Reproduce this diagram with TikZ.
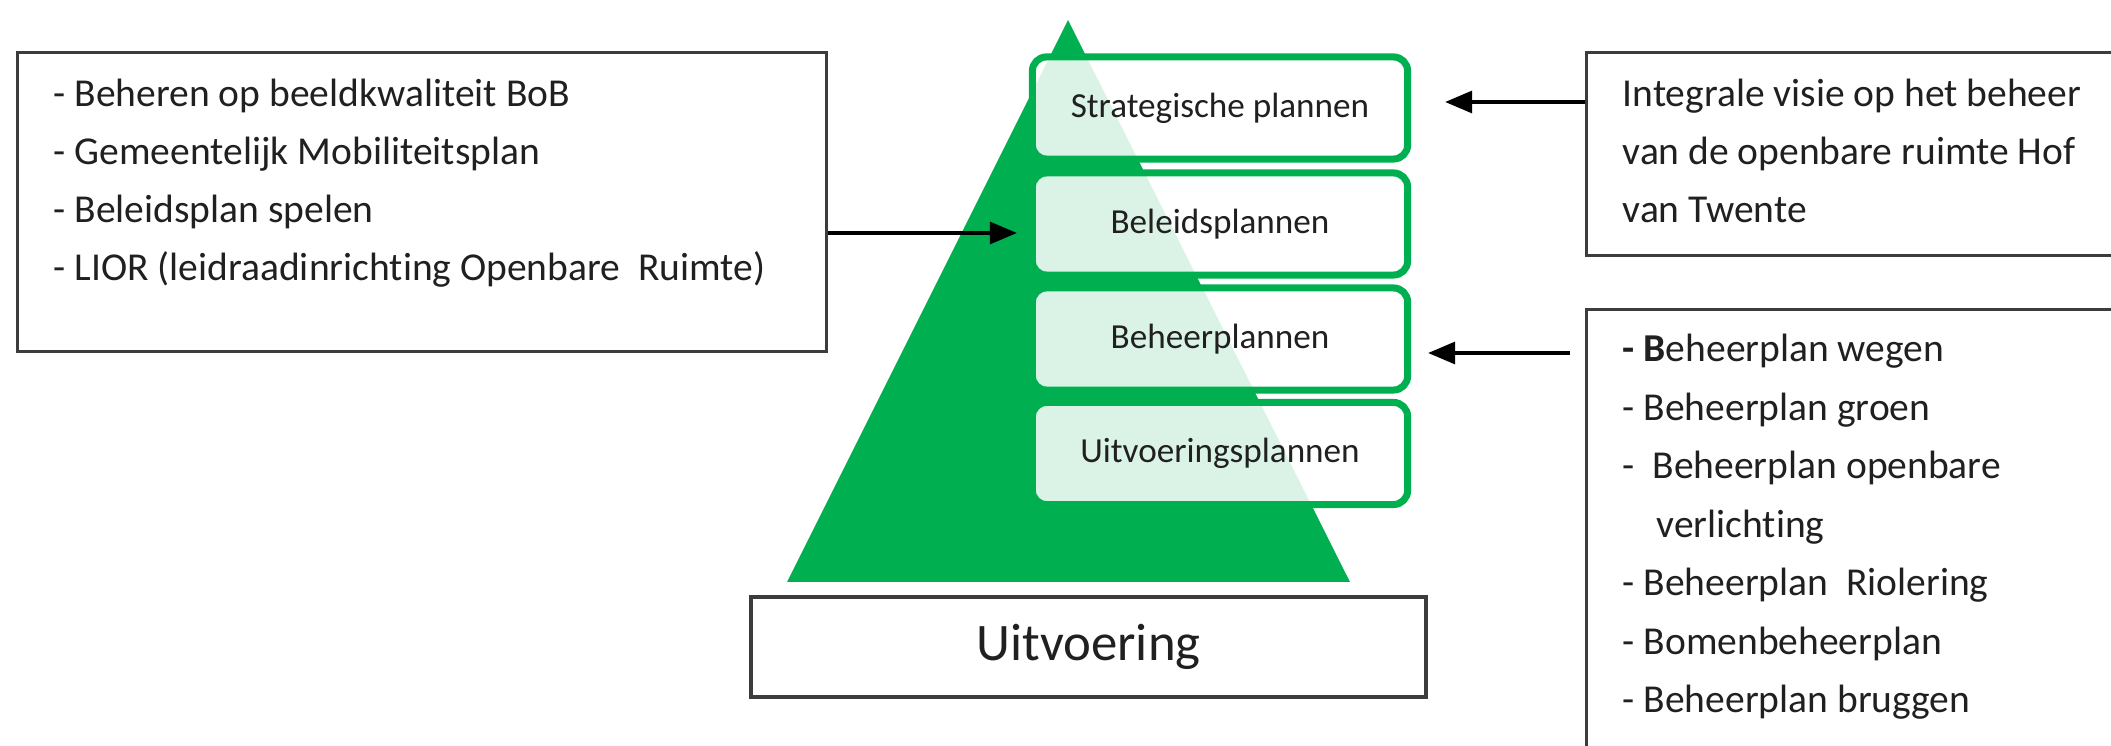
\documentclass[tikz,border=0pt]{standalone}
\usepackage{fontspec}
\setmainfont[Ligatures=NoCommon]{Carlito}
\usetikzlibrary{arrows.meta}
\definecolor{pgreen}{RGB}{0,176,80}
\definecolor{bord}{RGB}{60,60,60}
\definecolor{txt}{RGB}{32,32,32}
\begin{document}
\begin{tikzpicture}[x=0.01cm,y=-0.01cm,
  outbox/.style={draw=bord, line width=1pt, fill=white, inner sep=0pt},
  planbox/.style={draw=pgreen, line width=2pt, rounded corners=0.14cm, fill=white,
    fill opacity=0.86, text opacity=1, minimum width=3.75cm, minimum height=1.02cm,
    inner sep=0pt, text=txt, font=\fontsize{10}{12}\selectfont},
  ltxt/.style={anchor=base west, inner sep=0pt, text=txt, font=\fontsize{11.24}{13}\selectfont},
  arr/.style={-{Triangle[length=0.27cm,width=0.22cm]}, line width=0.9pt, black}
]
\useasboundingbox (0,0) rectangle (2111,746);
\clip (0,0) rectangle (2111,746);

% pyramid
\fill[pgreen] (1068,20) -- (1350,582) -- (787,582) -- cycle;

% plan boxes
\node[planbox] (B1) at (1220,108) {Strategische plannen};
\node[planbox] (B2) at (1220,224) {Beleidsplannen};
\node[planbox] (B3) at (1220,339) {Beheerplannen};
\node[planbox] (B4) at (1220,453.5) {Uitvoeringsplannen};

% bottom box
\node[outbox, line width=1.1pt, minimum width=6.75cm, minimum height=1.0cm, text=txt,
  font=\fontsize{15}{18}\selectfont] (U) at (1088.5,647) {Uitvoering};

% left box
\node[outbox, minimum width=8.085cm, minimum height=2.985cm] (L) at (422,202) {};
\node[ltxt] (L1) at (53,107) {- Beheren op beeldkwaliteit BoB};
\node[ltxt] (L2) at (53,165) {- Gemeentelijk Mobiliteitsplan};
\node[ltxt] (L3) at (53,223) {- Beleidsplan spelen};
\node[ltxt] (L4) at (53,281) {- LIOR (leidraadinrichting Openbare\ \ Ruimte)};

% top right box
\node[outbox, minimum width=5.515cm, minimum height=2.025cm] (R1) at (1862.5,154) {};
\node[ltxt] (R1a) at (1622,107) {Integrale visie op het beheer};
\node[ltxt] (R1b) at (1622,165) {van de openbare ruimte Hof};
\node[ltxt] (R1c) at (1622,223) {van Twente};

% bottom right box
\node[outbox, minimum width=5.515cm, minimum height=4.585cm] (R2) at (1862.5,539) {};
\node[ltxt] (R2a) at (1622,362) {\textbf{- B}eheerplan wegen};
\node[ltxt] (R2b) at (1622,420.5) {- Beheerplan groen};
\node[ltxt] (R2c) at (1622,479) {-\ \ Beheerplan openbare};
\node[ltxt] (R2d) at (1656,537.5) {verlichting};
\node[ltxt] (R2e) at (1622,596) {- Beheerplan\ \ Riolering};
\node[ltxt] (R2f) at (1622,654.5) {- Bomenbeheerplan};
\node[ltxt] (R2g) at (1622,713) {- Beheerplan bruggen};

% connectors
\coordinate (t1) at ([xshift=-0.12cm]B2.west |- 0,233);
\draw[arr] (L.east |- 0,233) -- (t1);
\coordinate (t2) at ([xshift=0.34cm]B1.east |- 0,102);
\draw[arr] (R1.west |- 0,102) -- (t2);
\coordinate (s3) at ([xshift=-0.15cm]R2.west |- 0,353);
\coordinate (t3) at ([xshift=0.17cm]B3.east |- 0,353);
\draw[arr] (s3) -- (t3);
\end{tikzpicture}
\end{document}
